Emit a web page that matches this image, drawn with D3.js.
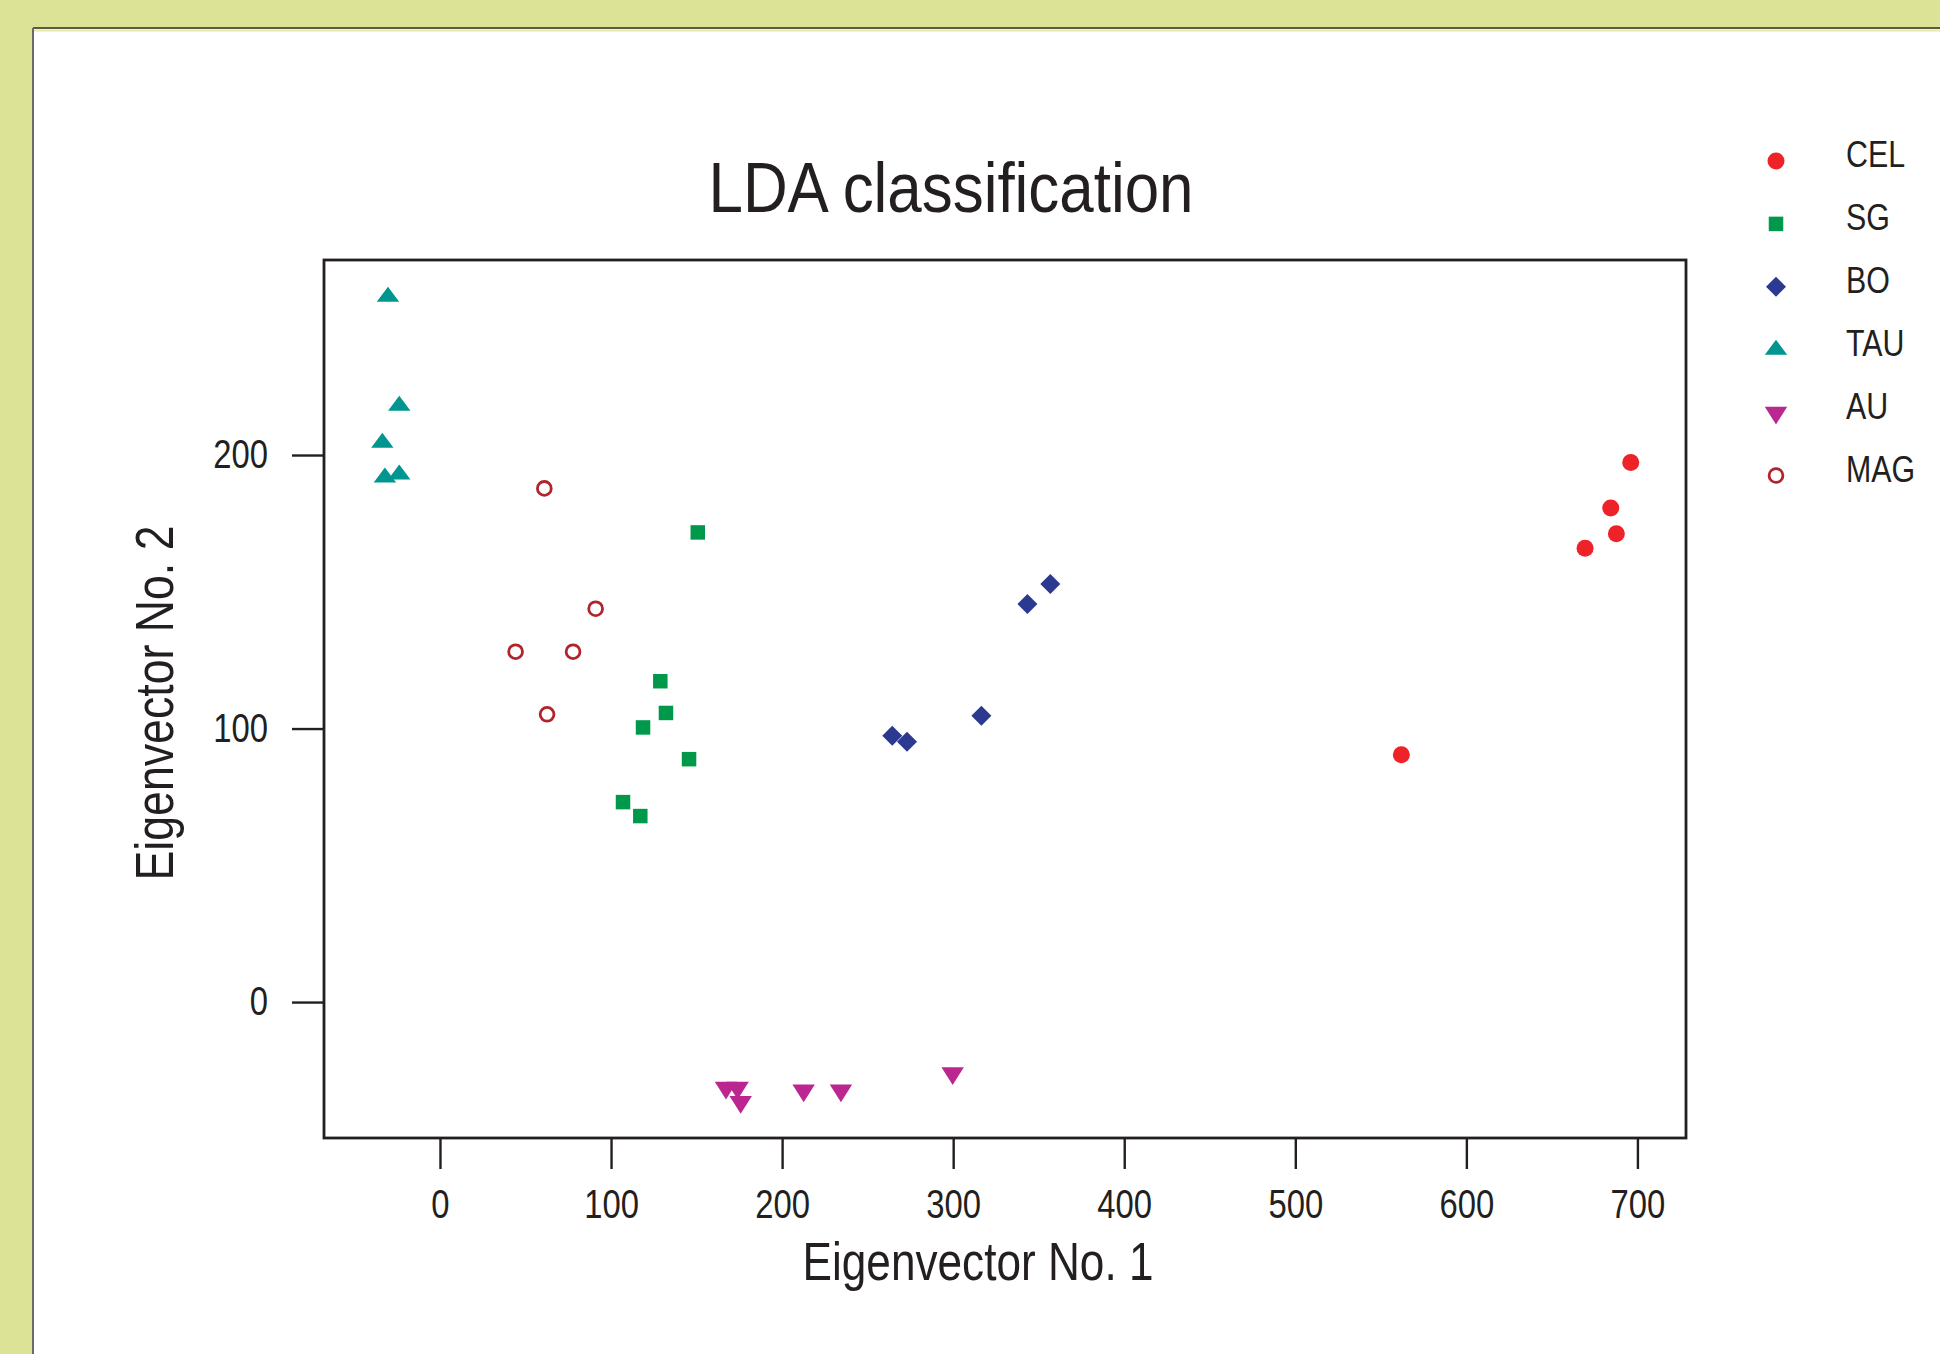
<!DOCTYPE html>
<html>
<head>
<meta charset="utf-8">
<script src="https://cdn.jsdelivr.net/npm/d3@7"></script>
<style>
  html, body { margin: 0; padding: 0; background: #DCE396; }
  svg { display: block; }
  text { font-family: "Liberation Sans", Arial, Helvetica, sans-serif; fill: #231F20; }
</style>
</head>
<body>
<svg id="chart" width="1940" height="1354"></svg>
<script>
// ---- Data ----
const groups = ["CEL", "SG", "BO", "TAU", "AU", "MAG"];

const celX = [696.1, 684.4, 687.7, 669.4, 562.0];
const celY = [197.3, 180.6, 171.2, 165.9, 90.4];

const sgX = [150.7, 128.8, 132.1, 118.7, 145.6, 107.0, 117.1];
const sgY = [171.7, 117.3, 105.7, 100.4, 88.8, 73.1, 68.0];

const boX = [356.8, 343.4, 316.5, 264.4, 273.0];
const boY = [152.8, 145.5, 104.7, 97.4, 95.2];

const tauX = [-30.4, -23.8, -33.7, -32.2, -23.8];
const tauY = [257.9, 218.0, 204.5, 191.8, 192.9];

const auX = [167.2, 174.0, 175.8, 212.6, 234.4, 299.7];
const auY = [-31.3, -31.3, -36.5, -32.3, -32.3, -26.0];

const magX = [61.0, 91.0, 44.2, 77.8, 62.6];
const magY = [187.8, 143.8, 128.1, 128.1, 105.2];

const xTicks = [0, 100, 200, 300, 400, 500, 600, 700];
const yTicks = [0, 100, 200];

const titleText = "LDA classification";
const xTitle = "Eigenvector No. 1";
const yTitle = "Eigenvector No. 2";

// ---- Styles ----
const colors = {
  CEL: "#EE2229", SG: "#00994C", BO: "#2B3990",
  TAU: "#00968F", AU: "#BB2690", MAG: "#B0252D"
};
const seriesX = { CEL: celX, SG: sgX, BO: boX, TAU: tauX, AU: auX, MAG: magX };
const seriesY = { CEL: celY, SG: sgY, BO: boY, TAU: tauY, AU: auY, MAG: magY };

const svg = d3.select("#chart");

// background & panel
svg.append("rect").attr("x", 0).attr("y", 0).attr("width", 1940).attr("height", 1354).attr("fill", "#DCE396");
svg.append("rect").attr("x", 33).attr("y", 28).attr("width", 1940).attr("height", 1400).attr("fill", "#FFFFFF");
svg.append("line").attr("x1", 33).attr("x2", 1940).attr("y1", 28).attr("y2", 28).attr("stroke", "#5a5a4a").attr("stroke-width", 2);
svg.append("line").attr("x1", 33).attr("x2", 33).attr("y1", 28).attr("y2", 1354).attr("stroke", "#6a6a6a").attr("stroke-width", 2);
svg.append("line").attr("x1", 34).attr("x2", 1940).attr("y1", 30.5).attr("y2", 30.5).attr("stroke", "#E4EAA8").attr("stroke-width", 2);

// plot area
const L = 324, R = 1686, T = 260, B = 1138;
const x = d3.scaleLinear().domain([-67.8, 728.4]).range([L, R]);
const y = d3.scaleLinear().domain([-49.7, 271.3]).range([B, T]);

function condense(sel, factor) {
  sel.each(function () {
    const len = this.getComputedTextLength();
    d3.select(this).attr("textLength", len * factor).attr("lengthAdjust", "spacingAndGlyphs");
  });
}

// axes
const xAxis = svg.append("g").attr("transform", `translate(0,${B})`)
  .call(d3.axisBottom(x).tickValues(xTicks).tickSize(31).tickPadding(21).tickFormat(d3.format("d")));
const yAxis = svg.append("g").attr("transform", `translate(${L},0)`)
  .call(d3.axisLeft(y).tickValues(yTicks).tickSize(32).tickPadding(24).tickFormat(d3.format("d")));
[xAxis, yAxis].forEach(g => {
  g.select(".domain").remove();
  g.selectAll(".tick line").attr("stroke", "#231F20").attr("stroke-width", 2.4);
  g.selectAll(".tick text").attr("font-size", 40).attr("fill", "#231F20")
    .attr("font-family", "Liberation Sans, Arial, sans-serif");
  condense(g.selectAll(".tick text"), 0.82);
});

// box
svg.append("rect").attr("x", L).attr("y", T).attr("width", R - L).attr("height", B - T)
  .attr("fill", "none").attr("stroke", "#231F20").attr("stroke-width", 2.8);

// marker shapes
const shapePath = {
  SG: "M-7.25,-7.25H7.25V7.25H-7.25Z",
  BO: "M0,-10L10,0L0,10L-10,0Z",
  TAU: "M0,-10L11.2,5L-11.2,5Z",
  AU: "M-11.2,-5.9L11.2,-5.9L0,11.8Z"
};

function drawMarker(g, grp, cx, cy) {
  if (grp === "CEL") {
    g.append("circle").attr("cx", cx).attr("cy", cy).attr("r", 8.5).attr("fill", colors.CEL);
  } else if (grp === "MAG") {
    g.append("circle").attr("cx", cx).attr("cy", cy).attr("r", 6.9)
      .attr("fill", "none").attr("stroke", colors.MAG).attr("stroke-width", 2.8);
  } else {
    g.append("path").attr("d", shapePath[grp]).attr("transform", `translate(${cx},${cy})`)
      .attr("fill", colors[grp]);
  }
}

const pts = svg.append("g");
groups.forEach(grp => {
  const xs = seriesX[grp], ys = seriesY[grp];
  xs.forEach((v, i) => drawMarker(pts, grp, x(v), y(ys[i])));
});

// title
const t = svg.append("text").attr("x", 951).attr("y", 212).attr("text-anchor", "middle")
  .attr("font-size", 71).text(titleText);
t.attr("textLength", 485).attr("lengthAdjust", "spacingAndGlyphs");

// axis titles
svg.append("text").attr("x", 978).attr("y", 1280).attr("text-anchor", "middle")
  .attr("font-size", 53).text(xTitle)
  .attr("textLength", 351).attr("lengthAdjust", "spacingAndGlyphs");
svg.append("text").attr("transform", "translate(173,703) rotate(-90)").attr("text-anchor", "middle")
  .attr("font-size", 53).text(yTitle)
  .attr("textLength", 355).attr("lengthAdjust", "spacingAndGlyphs");

// legend
const leg = svg.append("g");
groups.forEach((grp, i) => {
  const cy = 161 + 62.9 * i;
  drawMarker(leg, grp, 1776, cy);
  leg.append("text").attr("x", 1846).attr("y", cy + 6).attr("font-size", 37).text(grp);
});
condense(leg.selectAll("text"), 0.82);
</script>
</body>
</html>
